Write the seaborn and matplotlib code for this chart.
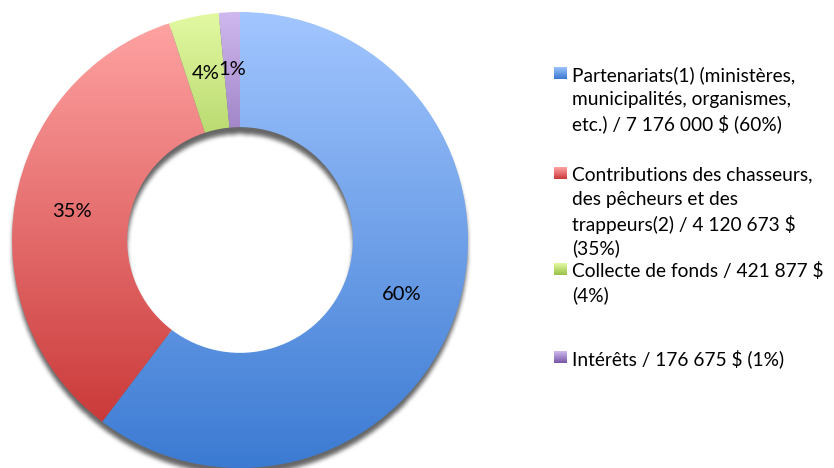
import numpy as np
import matplotlib
matplotlib.use("Agg")
import matplotlib.pyplot as plt
import seaborn as sns

sns.set_theme(style="white")
plt.rcParams['font.family'] = ['Lato', 'DejaVu Sans']

# ---- data ----
categories = [
    "Partenariats(1) (ministères,\nmunicipalités, organismes,\netc.) / 7 176 000 $ (60%)",
    "Contributions des chasseurs,\ndes pêcheurs et des\ntrappeurs(2) / 4 120 673 $\n(35%)",
    "Collecte de fonds / 421 877 $\n(4%)",
    "Intérêts / 176 675 $ (1%)",
]
values = [7176000, 4120673, 421877, 176675]
pct_labels = ["60%", "35%", "4%", "1%"]
# gradient colours (top, bottom)
grad_top = ["#A2C6FF", "#FFA2A2", "#E2F9A2", "#CFB8EE"]
grad_bot = ["#3B7AD2", "#CB3A3A", "#98C047", "#7857A6"]

W, H = 834, 468
fig = plt.figure(figsize=(W / 100, H / 100), dpi=100)
fig.patch.set_facecolor("white")

cx, cy, R = 240, 240, 228
ax = fig.add_axes([(cx - R) / W, (H - cy - R) / H, 2 * R / W, 2 * R / H])
ax.set_xlim(-1, 1)
ax.set_ylim(-1, 1)
ax.set_aspect("equal")
ax.axis("off")

ring_w = 0.505

# drop shadow (blurred ring shifted down)
n = 600
ext = 1.1
g = np.linspace(-ext, ext, n)
X, Y = np.meshgrid(g, g)
dy = 0.03
rr = np.sqrt(X ** 2 + (Y + dy) ** 2)
mask = ((rr <= 1.0) & (rr >= 1 - ring_w)).astype(float)
k = np.ones(5) / 5
for _ in range(3):
    mask = np.apply_along_axis(lambda m: np.convolve(m, k, mode="same"), 0, mask)
    mask = np.apply_along_axis(lambda m: np.convolve(m, k, mode="same"), 1, mask)
shadow = np.zeros((n, n, 4))
shadow[..., 3] = mask * 0.6
ax.imshow(shadow, extent=(-ext, ext, -ext, ext), origin="lower", zorder=0,
          clip_on=False, interpolation="bilinear")

wedges, _ = ax.pie(values, startangle=90, counterclock=False, radius=1.0,
                   wedgeprops=dict(width=ring_w, linewidth=0, edgecolor="none"))
for w in wedges:
    w.set_facecolor("none")
    w.set_zorder(2)

def hex2rgb(h):
    return np.array(matplotlib.colors.to_rgb(h))

for i, w in enumerate(wedges):
    verts = w.get_path().vertices
    x0, x1 = verts[:, 0].min(), verts[:, 0].max()
    y0, y1 = verts[:, 1].min(), verts[:, 1].max()
    t = np.linspace(0, 1, 256)[:, None]
    top, bot = hex2rgb(grad_top[i]), hex2rgb(grad_bot[i])
    col = bot * (1 - t) + top * t
    img = np.repeat(col[:, None, :], 2, axis=1)
    im = ax.imshow(img, extent=(x0, x1, y0, y1), origin="lower", aspect="auto",
                   zorder=1, interpolation="bilinear")
    im.set_clip_path(w)

# percentage labels at ring middle
total = sum(values)
start = 90.0
for v, lab in zip(values, pct_labels):
    span = 360.0 * v / total
    mid = np.deg2rad(start - span / 2)
    r = 1 - ring_w / 2
    ax.text(r * np.cos(mid), r * np.sin(mid), lab, ha="center", va="center",
            fontsize=14.5, color="black", zorder=5)
    start -= span

ax.set_xlim(-1, 1)
ax.set_ylim(-1, 1)

# legend (manual, with gradient squares)
line_h = 24.5
first_y = [75, 175, 271, 359]
tx = 572
for i, (lab, y0) in enumerate(zip(categories, first_y)):
    for j, line in enumerate(lab.split("\n")):
        fig.text(tx / W, 1 - (y0 + j * line_h) / H, line, ha="left", va="center",
                 fontsize=13.8, color="black")
    sx, sy, sw, sh = 554, y0 - 8, 13, 12
    sax = fig.add_axes([sx / W, 1 - (sy + sh) / H, sw / W, sh / H])
    t = np.linspace(0, 1, 32)[:, None]
    top, bot = hex2rgb(grad_top[i]), hex2rgb(grad_bot[i])
    col = bot * (1 - t) + top * t
    sax.imshow(np.repeat(col[:, None, :], 2, axis=1), origin="lower", aspect="auto",
               extent=(0, 1, 0, 1))
    sax.axis("off")

fig.savefig("out.png", dpi=100, facecolor="white")
